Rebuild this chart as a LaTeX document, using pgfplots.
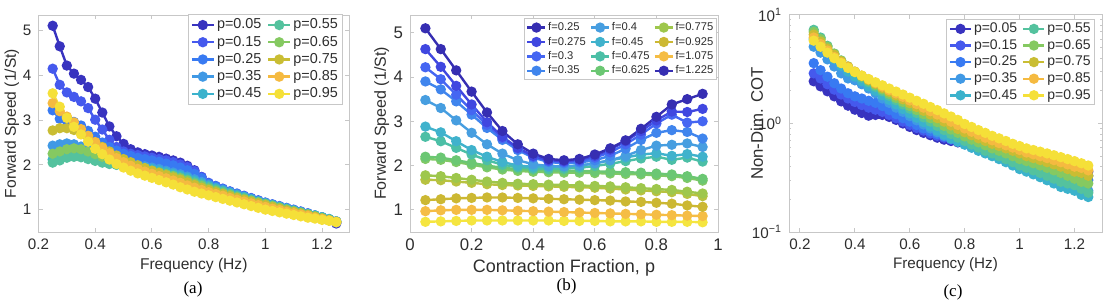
\documentclass[border=0pt]{standalone}
\usepackage{fontspec}
\setmainfont{Liberation Sans}
\newfontfamily\capfont{Liberation Serif}
\usepackage{pgfplots}
\usepackage{pgfplotstable}
\pgfplotsset{compat=1.18}

\definecolor{axgray}{gray}{0.78}
\definecolor{txtgray}{gray}{0.18}
\definecolor{cA1}{rgb}{0.22,0.20,0.75}
\definecolor{cA2}{rgb}{0.27,0.35,0.93}
\definecolor{cA3}{rgb}{0.22,0.48,0.95}
\definecolor{cA4}{rgb}{0.25,0.60,0.90}
\definecolor{cA5}{rgb}{0.23,0.70,0.80}
\definecolor{cA6}{rgb}{0.33,0.76,0.62}
\definecolor{cA7}{rgb}{0.52,0.79,0.38}
\definecolor{cA8}{rgb}{0.79,0.74,0.20}
\definecolor{cA9}{rgb}{0.96,0.73,0.25}
\definecolor{cA10}{rgb}{0.96,0.88,0.22}
\definecolor{cB1}{rgb}{0.21,0.18,0.70}
\definecolor{cB2}{rgb}{0.25,0.28,0.88}
\definecolor{cB3}{rgb}{0.27,0.40,0.95}
\definecolor{cB4}{rgb}{0.25,0.52,0.93}
\definecolor{cB5}{rgb}{0.28,0.62,0.88}
\definecolor{cB6}{rgb}{0.25,0.70,0.80}
\definecolor{cB7}{rgb}{0.30,0.75,0.65}
\definecolor{cB8}{rgb}{0.42,0.78,0.45}
\definecolor{cB8b}{rgb}{0.50,0.79,0.40}
\definecolor{cB9}{rgb}{0.62,0.78,0.30}
\definecolor{cB9b}{rgb}{0.72,0.76,0.25}
\definecolor{cB10}{rgb}{0.80,0.72,0.20}
\definecolor{cB11}{rgb}{0.96,0.74,0.27}
\definecolor{cB12}{rgb}{0.96,0.90,0.25}

\pgfplotstableread{
f a05 a15 a25 a35 a45 a55 a65 a75 a85 a95
0.25 5.11 4.15 3.22 2.43 2.12 2.05 2.25 2.77 3.38 3.60
0.275 4.65 3.79 3.03 2.46 2.18 2.10 2.30 2.82 3.20 3.30
0.3 4.22 3.62 2.98 2.48 2.24 2.16 2.35 2.82 3.08 3.05
0.325 4.04 3.52 2.96 2.46 2.26 2.18 2.37 2.78 2.95 2.85
0.35 3.90 3.42 2.88 2.41 2.24 2.17 2.35 2.70 2.80 2.68
0.375 3.74 3.27 2.76 2.34 2.19 2.13 2.30 2.60 2.65 2.52
0.4 3.48 3.01 2.63 2.27 2.14 2.09 2.24 2.50 2.51 2.36
0.425 3.17 2.79 2.50 2.21 2.10 2.05 2.18 2.40 2.38 2.24
0.45 2.86 2.56 2.40 2.16 2.06 2.02 2.12 2.30 2.26 2.12
0.475 2.64 2.40 2.32 2.11 2.03 2.00 2.07 2.21 2.15 2.02
0.5 2.47 2.30 2.25 2.07 2.01 1.98 2.03 2.13 2.06 1.94
0.525 2.35 2.25 2.20 2.03 1.99 1.96 1.99 2.06 1.98 1.87
0.55 2.28 2.22 2.16 2.00 1.97 1.93 1.95 1.99 1.91 1.81
0.575 2.24 2.19 2.13 1.97 1.94 1.90 1.91 1.93 1.85 1.76
0.6 2.21 2.16 2.10 1.94 1.91 1.87 1.87 1.87 1.80 1.71
0.625 2.18 2.13 2.07 1.91 1.88 1.84 1.83 1.82 1.75 1.66
0.65 2.14 2.10 2.03 1.87 1.84 1.80 1.79 1.77 1.70 1.61
0.675 2.10 2.06 1.99 1.83 1.80 1.76 1.75 1.72 1.65 1.56
0.7 2.05 2.01 1.94 1.79 1.76 1.72 1.70 1.67 1.60 1.50
0.725 1.98 1.95 1.88 1.74 1.71 1.67 1.65 1.61 1.54 1.45
0.75 1.88 1.86 1.80 1.68 1.65 1.61 1.58 1.55 1.49 1.40
0.775 1.73 1.73 1.70 1.62 1.59 1.56 1.53 1.49 1.44 1.36
0.8 1.58 1.60 1.58 1.55 1.53 1.50 1.47 1.44 1.39 1.32
0.825 1.51 1.53 1.52 1.49 1.47 1.45 1.42 1.39 1.35 1.28
0.85 1.45 1.47 1.46 1.44 1.42 1.40 1.37 1.35 1.31 1.24
0.875 1.39 1.41 1.40 1.39 1.37 1.35 1.33 1.30 1.26 1.20
0.9 1.34 1.36 1.35 1.34 1.32 1.30 1.28 1.26 1.22 1.16
0.925 1.29 1.31 1.30 1.29 1.28 1.26 1.24 1.22 1.18 1.12
0.95 1.24 1.26 1.25 1.24 1.23 1.21 1.20 1.18 1.14 1.08
0.975 1.19 1.21 1.20 1.19 1.18 1.17 1.16 1.14 1.10 1.04
1.0 1.14 1.16 1.15 1.15 1.14 1.13 1.12 1.10 1.06 1.00
1.025 1.10 1.12 1.11 1.11 1.10 1.09 1.08 1.06 1.02 0.97
1.05 1.06 1.08 1.07 1.07 1.06 1.05 1.04 1.02 0.99 0.94
1.075 1.02 1.04 1.03 1.03 1.02 1.01 1.00 0.98 0.95 0.91
1.1 0.98 1.00 0.99 0.99 0.98 0.97 0.96 0.95 0.92 0.88
1.125 0.94 0.96 0.95 0.95 0.94 0.93 0.93 0.91 0.89 0.85
1.15 0.90 0.92 0.91 0.91 0.90 0.90 0.89 0.88 0.86 0.82
1.175 0.86 0.87 0.87 0.87 0.87 0.86 0.85 0.84 0.82 0.80
1.2 0.81 0.83 0.83 0.83 0.83 0.82 0.81 0.80 0.79 0.77
1.225 0.76 0.78 0.78 0.79 0.79 0.78 0.77 0.76 0.76 0.75
1.25 0.69 0.71 0.72 0.74 0.74 0.73 0.73 0.72 0.73 0.72
}\tabA

\pgfplotstableread{
p b25 b275 b3 b35 b4 b45 b475 b625 b65 b775 b8 b925 b1075 b1225
0.05 5.10 4.63 4.22 3.90 3.48 2.88 2.65 2.20 2.15 1.78 1.68 1.22 0.97 0.73
0.10 4.63 4.23 3.95 3.72 3.30 2.75 2.55 2.18 2.13 1.76 1.67 1.24 0.99 0.74
0.15 4.15 3.80 3.60 3.45 3.02 2.55 2.40 2.12 2.08 1.72 1.64 1.26 1.00 0.75
0.20 3.67 3.38 3.25 3.15 2.74 2.35 2.25 2.06 2.02 1.68 1.61 1.27 1.00 0.76
0.25 3.20 2.98 2.92 2.85 2.48 2.20 2.12 2.00 1.96 1.64 1.58 1.28 1.00 0.76
0.30 2.78 2.65 2.62 2.58 2.27 2.08 2.02 1.95 1.91 1.61 1.56 1.28 0.99 0.76
0.35 2.48 2.40 2.38 2.35 2.12 2.00 1.96 1.92 1.88 1.59 1.55 1.27 0.98 0.76
0.40 2.27 2.22 2.20 2.18 2.03 1.97 1.93 1.90 1.86 1.58 1.54 1.26 0.97 0.76
0.45 2.15 2.12 2.10 2.08 1.99 1.97 1.92 1.89 1.85 1.57 1.53 1.25 0.96 0.76
0.50 2.12 2.10 2.08 2.05 1.98 1.98 1.93 1.88 1.84 1.56 1.52 1.24 0.95 0.75
0.55 2.15 2.13 2.10 2.07 2.00 2.00 1.95 1.88 1.84 1.55 1.51 1.23 0.94 0.75
0.60 2.25 2.22 2.18 2.12 2.05 2.05 1.99 1.87 1.83 1.54 1.50 1.22 0.93 0.75
0.65 2.39 2.36 2.30 2.22 2.12 2.12 2.04 1.86 1.82 1.53 1.48 1.21 0.92 0.74
0.70 2.57 2.55 2.48 2.38 2.22 2.18 2.10 1.85 1.81 1.51 1.46 1.19 0.91 0.74
0.75 2.83 2.78 2.70 2.58 2.35 2.25 2.16 1.84 1.80 1.49 1.44 1.18 0.90 0.74
0.80 3.10 3.02 2.95 2.74 2.45 2.28 2.20 1.82 1.78 1.47 1.42 1.16 0.89 0.73
0.85 3.38 3.22 3.15 2.80 2.47 2.22 2.13 1.80 1.76 1.45 1.40 1.14 0.88 0.73
0.90 3.50 3.21 2.97 2.76 2.50 2.26 2.18 1.76 1.72 1.41 1.36 1.10 0.87 0.73
0.95 3.62 3.28 3.00 2.61 2.42 2.20 2.09 1.70 1.66 1.37 1.31 1.07 0.86 0.72
}\tabB

\pgfplotstableread{
f c05 c15 c25 c35 c45 c55 c65 c75 c85 c95
0.25 2.45 2.90 3.60 5.10 6.00 7.30 7.00 6.60 6.20 5.80
0.275 2.20 2.60 3.10 4.50 5.20 6.20 6.00 5.70 5.40 5.10
0.3 1.98 2.30 2.70 3.90 4.50 5.20 5.10 4.90 4.70 4.50
0.325 1.78 2.05 2.35 3.35 3.90 4.40 4.40 4.30 4.10 4.00
0.35 1.60 1.85 2.10 2.90 3.40 3.80 3.80 3.75 3.65 3.60
0.375 1.46 1.70 1.90 2.60 3.00 3.30 3.35 3.35 3.30 3.25
0.4 1.34 1.58 1.78 2.50 2.70 2.95 3.00 3.00 3.00 2.98
0.425 1.25 1.48 1.70 2.30 2.45 2.65 2.72 2.75 2.76 2.76
0.45 1.18 1.40 1.62 2.10 2.20 2.40 2.48 2.52 2.55 2.57
0.475 1.20 1.34 1.55 1.90 2.00 2.18 2.26 2.32 2.36 2.40
0.5 1.20 1.28 1.45 1.70 1.82 1.98 2.06 2.13 2.19 2.25
0.525 1.15 1.20 1.33 1.55 1.65 1.80 1.88 1.96 2.03 2.10
0.55 1.08 1.12 1.22 1.40 1.50 1.64 1.72 1.81 1.89 1.97
0.575 1.00 1.04 1.12 1.28 1.36 1.50 1.58 1.67 1.76 1.85
0.6 0.93 0.97 1.04 1.17 1.24 1.37 1.45 1.54 1.63 1.73
0.625 0.87 0.91 0.97 1.07 1.13 1.25 1.33 1.42 1.51 1.62
0.65 0.82 0.86 0.90 0.98 1.03 1.14 1.22 1.31 1.40 1.52
0.675 0.78 0.81 0.85 0.90 0.94 1.04 1.12 1.21 1.30 1.42
0.7 0.74 0.77 0.80 0.83 0.86 0.95 1.03 1.12 1.21 1.33
0.725 0.71 0.74 0.76 0.77 0.79 0.87 0.95 1.04 1.12 1.24
0.75 0.69 0.71 0.72 0.72 0.73 0.80 0.88 0.96 1.04 1.16
0.775 0.67 0.68 0.69 0.68 0.68 0.74 0.82 0.89 0.97 1.08
0.8 0.65 0.66 0.66 0.64 0.64 0.69 0.76 0.83 0.90 0.99
0.825 0.63 0.63 0.63 0.60 0.60 0.64 0.71 0.78 0.84 0.93
0.85 0.61 0.61 0.60 0.57 0.56 0.60 0.67 0.73 0.79 0.87
0.875 0.59 0.58 0.57 0.54 0.53 0.56 0.63 0.69 0.74 0.82
0.9 0.57 0.56 0.55 0.51 0.50 0.53 0.59 0.65 0.70 0.77
0.925 0.55 0.54 0.52 0.48 0.47 0.50 0.56 0.62 0.66 0.73
0.95 0.53 0.52 0.50 0.45 0.44 0.47 0.53 0.59 0.63 0.69
0.975 0.51 0.50 0.48 0.42 0.41 0.44 0.50 0.56 0.60 0.65
1.0 0.49 0.48 0.46 0.40 0.38 0.41 0.47 0.53 0.57 0.62
1.025 0.47 0.46 0.44 0.38 0.36 0.39 0.45 0.50 0.54 0.59
1.05 0.46 0.44 0.42 0.36 0.34 0.37 0.43 0.48 0.52 0.57
1.075 0.44 0.42 0.40 0.34 0.32 0.35 0.41 0.46 0.50 0.55
1.1 0.43 0.41 0.38 0.32 0.30 0.33 0.39 0.44 0.48 0.53
1.125 0.41 0.39 0.36 0.30 0.28 0.31 0.37 0.42 0.46 0.51
1.15 0.40 0.37 0.34 0.28 0.26 0.29 0.35 0.40 0.44 0.49
1.175 0.39 0.36 0.33 0.27 0.25 0.28 0.33 0.38 0.42 0.47
1.2 0.38 0.35 0.32 0.26 0.24 0.27 0.31 0.36 0.40 0.45
1.225 0.37 0.34 0.31 0.25 0.22 0.25 0.29 0.35 0.39 0.43
1.25 0.36 0.33 0.30 0.24 0.21 0.23 0.28 0.33 0.37 0.41
}\tabC

\pgfplotsset{
  mat/.style={
    scale only axis,
    axis line style={axgray, line width=0.5pt},
    tick style={axgray, line width=0.5pt},
    major tick length=2.2pt, minor tick length=1.2pt,
    tick align=inside,
    /pgf/number format/assume math mode=true,
    every tick label/.append style={text=txtgray},
    label style={text=txtgray},
    legend cell align=left,
    legend style={draw=axgray, line width=0.5pt, text=txtgray, fill=white},
  },
  limg/.style={legend image code/.code={\draw[mark repeat=2,mark phase=2] plot coordinates {(0pt,0pt)(#1/2,0pt)(#1,0pt)};}},
  ls/.style={color=#1, line width=1.2pt, mark=*, mark size=1.95pt, mark options={solid, fill=#1, draw=#1}},
}

\begin{document}
\begin{tikzpicture}
\path[use as bounding box] (0pt,0pt) rectangle (554.5pt,153.5pt);

% ---------- (a)
\begin{axis}[mat,
  at={(19.25pt,37.5pt)}, anchor=south west,
  width=155.25pt, height=108.5pt,
  xmin=0.2, xmax=1.295, ymin=0.5, ymax=5.35,
  xtick={0.2,0.4,0.6,0.8,1,1.2}, ytick={1,2,3,4,5},
  tick label style={font=\fontsize{7.6}{8}\selectfont},
  xlabel={Frequency (Hz)}, ylabel={Forward Speed (1/St)},
  label style={font=\fontsize{7.8}{8}\selectfont},
  xlabel style={at={(axis description cs:0.5,-0.155)}, anchor=center},
  ylabel style={at={(axis description cs:-0.086,0.5)}, anchor=center},
  limg=11pt,
  legend columns=2,
  legend style={at={(0.98,1.003)}, anchor=north east, font=\fontsize{7.2}{7.2}\selectfont,
    inner xsep=1.2pt, inner ysep=0.8pt,
    nodes={inner sep=1pt, text height=5.2pt, text depth=1.4pt},
    /tikz/every even column/.append style={column sep=1.8pt}},
]
\addplot[ls=cA1, forget plot] table[x=f,y=a05]{\tabA};
\addplot[ls=cA2, forget plot] table[x=f,y=a15]{\tabA};
\addplot[ls=cA3, forget plot] table[x=f,y=a25]{\tabA};
\addplot[ls=cA4, forget plot] table[x=f,y=a35]{\tabA};
\addplot[ls=cA5, forget plot] table[x=f,y=a45]{\tabA};
\addplot[ls=cA6, forget plot] table[x=f,y=a55]{\tabA};
\addplot[ls=cA7, forget plot] table[x=f,y=a65]{\tabA};
\addplot[ls=cA8, forget plot] table[x=f,y=a75]{\tabA};
\addplot[ls=cA9, forget plot] table[x=f,y=a85]{\tabA};
\addplot[ls=cA10, forget plot] table[x=f,y=a95]{\tabA};
\addlegendimage{ls=cA1}\addlegendentry{p=0.05}
\addlegendimage{ls=cA6}\addlegendentry{p=0.55}
\addlegendimage{ls=cA2}\addlegendentry{p=0.15}
\addlegendimage{ls=cA7}\addlegendentry{p=0.65}
\addlegendimage{ls=cA3}\addlegendentry{p=0.25}
\addlegendimage{ls=cA8}\addlegendentry{p=0.75}
\addlegendimage{ls=cA4}\addlegendentry{p=0.35}
\addlegendimage{ls=cA9}\addlegendentry{p=0.85}
\addlegendimage{ls=cA5}\addlegendentry{p=0.45}
\addlegendimage{ls=cA10}\addlegendentry{p=0.95}
\end{axis}

% ---------- (b)
\begin{axis}[mat,
  at={(205pt,37.5pt)}, anchor=south west,
  width=154pt, height=108.5pt,
  xmin=0, xmax=1, ymin=0.5, ymax=5.4,
  xtick={0,0.2,0.4,0.6,0.8,1}, ytick={1,2,3,4,5},
  tick label style={font=\fontsize{8.4}{9}\selectfont},
  xlabel={Contraction Fraction, p}, ylabel={Forward Speed (1/St)},
  xlabel style={font=\fontsize{9}{10}\selectfont, at={(axis description cs:0.5,-0.165)}, anchor=center},
  ylabel style={font=\fontsize{8}{9}\selectfont, at={(axis description cs:-0.092,0.5)}, anchor=center},
  limg=9pt,
  legend columns=3,
  legend style={at={(0.998,0.985)}, anchor=north east, font=\fontsize{5.6}{5.6}\selectfont,
    inner xsep=1pt, inner ysep=0.8pt,
    nodes={inner sep=0.8pt, text height=4.4pt, text depth=1.2pt},
    /tikz/every even column/.append style={column sep=1.2pt}},
]
\addplot[ls=cB12, forget plot] table[x=p,y=b1225]{\tabB};
\addplot[ls=cB11, forget plot] table[x=p,y=b1075]{\tabB};
\addplot[ls=cB10, forget plot] table[x=p,y=b925]{\tabB};
\addplot[ls=cB9b, forget plot] table[x=p,y=b8]{\tabB};
\addplot[ls=cB9, forget plot] table[x=p,y=b775]{\tabB};
\addplot[ls=cB8b, forget plot] table[x=p,y=b65]{\tabB};
\addplot[ls=cB8, forget plot] table[x=p,y=b625]{\tabB};
\addplot[ls=cB7, forget plot] table[x=p,y=b475]{\tabB};
\addplot[ls=cB6, forget plot] table[x=p,y=b45]{\tabB};
\addplot[ls=cB5, forget plot] table[x=p,y=b4]{\tabB};
\addplot[ls=cB4, forget plot] table[x=p,y=b35]{\tabB};
\addplot[ls=cB3, forget plot] table[x=p,y=b3]{\tabB};
\addplot[ls=cB2, forget plot] table[x=p,y=b275]{\tabB};
\addplot[ls=cB1, forget plot] table[x=p,y=b25]{\tabB};
\addlegendimage{ls=cB1}\addlegendentry{f=0.25}
\addlegendimage{ls=cB5}\addlegendentry{f=0.4}
\addlegendimage{ls=cB9}\addlegendentry{f=0.775}
\addlegendimage{ls=cB2}\addlegendentry{f=0.275}
\addlegendimage{ls=cB6}\addlegendentry{f=0.45}
\addlegendimage{ls=cB10}\addlegendentry{f=0.925}
\addlegendimage{ls=cB3}\addlegendentry{f=0.3}
\addlegendimage{ls=cB7}\addlegendentry{f=0.475}
\addlegendimage{ls=cB11}\addlegendentry{f=1.075}
\addlegendimage{ls=cB4}\addlegendentry{f=0.35}
\addlegendimage{ls=cB8}\addlegendentry{f=0.625}
\addlegendimage{ls=cB1}\addlegendentry{f=1.225}
\end{axis}

% ---------- (c)
\begin{axis}[mat,
  at={(394.5pt,37.5pt)}, anchor=south west,
  width=156.5pt, height=108.5pt,
  ymode=log,
  xmin=0.16, xmax=1.3, ymin=0.1, ymax=10,
  xtick={0.2,0.4,0.6,0.8,1,1.2}, ytick={0.1,1,10},
  yticklabels={10\textsuperscript{−1},10\textsuperscript{0},10\textsuperscript{1}},
  tick label style={font=\fontsize{7.6}{8}\selectfont},
  xlabel={Frequency (Hz)}, ylabel={Non-Dim. COT},
  xlabel style={font=\fontsize{7.6}{8}\selectfont, at={(axis description cs:0.5,-0.152)}, anchor=center},
  ylabel style={font=\fontsize{8.4}{9}\selectfont, at={(axis description cs:-0.103,0.5)}, anchor=center},
  limg=10.5pt,
  legend columns=2,
  legend style={at={(0.978,0.982)}, anchor=north east, font=\fontsize{7}{7}\selectfont,
    inner xsep=1.1pt, inner ysep=0.6pt,
    nodes={inner sep=0.9pt, text height=5.1pt, text depth=1.4pt},
    /tikz/every even column/.append style={column sep=1.6pt}},
]
\addplot[ls=cA1, forget plot] table[x=f,y=c05]{\tabC};
\addplot[ls=cA2, forget plot] table[x=f,y=c15]{\tabC};
\addplot[ls=cA3, forget plot] table[x=f,y=c25]{\tabC};
\addplot[ls=cA4, forget plot] table[x=f,y=c35]{\tabC};
\addplot[ls=cA5, forget plot] table[x=f,y=c45]{\tabC};
\addplot[ls=cA6, forget plot] table[x=f,y=c55]{\tabC};
\addplot[ls=cA7, forget plot] table[x=f,y=c65]{\tabC};
\addplot[ls=cA8, forget plot] table[x=f,y=c75]{\tabC};
\addplot[ls=cA9, forget plot] table[x=f,y=c85]{\tabC};
\addplot[ls=cA10, forget plot] table[x=f,y=c95]{\tabC};
\addlegendimage{ls=cA1}\addlegendentry{p=0.05}
\addlegendimage{ls=cA6}\addlegendentry{p=0.55}
\addlegendimage{ls=cA2}\addlegendentry{p=0.15}
\addlegendimage{ls=cA7}\addlegendentry{p=0.65}
\addlegendimage{ls=cA3}\addlegendentry{p=0.25}
\addlegendimage{ls=cA8}\addlegendentry{p=0.75}
\addlegendimage{ls=cA4}\addlegendentry{p=0.35}
\addlegendimage{ls=cA9}\addlegendentry{p=0.85}
\addlegendimage{ls=cA5}\addlegendentry{p=0.45}
\addlegendimage{ls=cA10}\addlegendentry{p=0.95}
\end{axis}

\node[font=\capfont\fontsize{8.5}{9}\selectfont] at (96.5pt,8.8pt) {(a)};
\node[font=\capfont\fontsize{8.5}{9}\selectfont] at (283.3pt,10.5pt) {(b)};
\node[font=\capfont\fontsize{8.5}{9}\selectfont] at (476.5pt,7.5pt) {(c)};
\end{tikzpicture}
\end{document}
